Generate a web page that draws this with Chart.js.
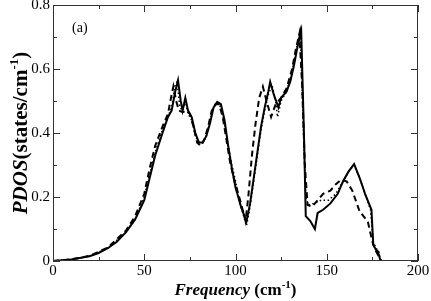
<!DOCTYPE html>
<html lang="en">
<head>
  <meta charset="UTF-8">
  <title>PDOS</title>
  <script src="https://cdn.jsdelivr.net/npm/chart.js"></script>
  <style>
    html, body { margin: 0; padding: 0; background: #fff; }
    #wrap { width: 431px; height: 301px; }
  </style>
</head>
<body>
  <div id="wrap"><canvas id="pdosChart" width="431" height="301"></canvas></div>

  <script>
    // solid curve
    const solidFreq = [0, 10, 20, 25, 30, 35, 40, 45, 50, 53, 56, 60, 63, 65, 67, 68.5, 70, 71, 72.5, 74, 76, 78, 80, 82, 84, 86, 88, 90, 92, 94, 96, 98, 100, 101, 103, 106, 108, 110, 112, 114, 116, 118, 119, 121, 123.5, 125, 128, 130, 132, 134, 136, 137.5, 138.5, 141, 143.5, 145, 148, 152, 156, 159, 162, 165, 168, 171, 174.5, 175.5, 177, 178, 179.5, 200];
    const solidVal = [0, 0.005, 0.015, 0.025, 0.04, 0.06, 0.09, 0.13, 0.19, 0.26, 0.33, 0.40, 0.45, 0.47, 0.53, 0.565, 0.50, 0.47, 0.51, 0.47, 0.45, 0.40, 0.37, 0.37, 0.39, 0.43, 0.48, 0.497, 0.49, 0.44, 0.36, 0.29, 0.23, 0.21, 0.17, 0.123, 0.18, 0.26, 0.34, 0.42, 0.48, 0.53, 0.56, 0.52, 0.48, 0.51, 0.53, 0.56, 0.61, 0.67, 0.718, 0.40, 0.14, 0.125, 0.10, 0.15, 0.16, 0.18, 0.21, 0.25, 0.28, 0.303, 0.26, 0.21, 0.16, 0.05, 0.035, 0.03, 0, 0];

    // dashed curve
    const dashFreq = [0, 10, 20, 30, 40, 45, 50, 53, 56, 60, 63, 65, 66, 67.5, 69, 71, 73, 75, 77, 79, 81, 83, 85, 87, 89, 91, 93, 95, 97, 99, 101, 103, 105.5, 107, 109, 111, 113, 115, 117, 119.5, 122, 125, 128, 131, 133, 135, 136.5, 138, 139.5, 142, 145, 148, 152, 155, 158, 161, 164, 168, 172.5, 175, 177, 180, 200];
    const dashVal = [0, 0.005, 0.016, 0.042, 0.095, 0.14, 0.21, 0.29, 0.36, 0.42, 0.46, 0.52, 0.546, 0.50, 0.47, 0.465, 0.47, 0.46, 0.42, 0.37, 0.36, 0.38, 0.42, 0.47, 0.49, 0.49, 0.45, 0.38, 0.31, 0.26, 0.22, 0.18, 0.125, 0.20, 0.33, 0.43, 0.51, 0.545, 0.50, 0.45, 0.49, 0.51, 0.54, 0.60, 0.66, 0.71, 0.55, 0.30, 0.175, 0.17, 0.19, 0.21, 0.22, 0.24, 0.255, 0.248, 0.22, 0.155, 0.123, 0.06, 0.03, 0, 0];

    // dotted curve
    const dotFreq = [0, 10, 20, 30, 40, 45, 50, 53, 56, 60, 63, 65, 67, 68, 69.5, 71, 72.5, 74, 76, 78, 80, 82, 84, 86, 88, 90, 92, 94, 96, 98, 100, 102, 104, 106, 108, 110, 112, 114, 116, 118, 120, 122, 123, 125, 128, 130, 132, 134, 135.5, 137, 138.5, 140, 143, 147, 151, 155, 159, 162, 165, 168, 171, 174, 175.5, 177, 178.5, 179.5, 200];
    const dotVal = [0, 0.005, 0.015, 0.04, 0.09, 0.13, 0.20, 0.27, 0.34, 0.41, 0.45, 0.48, 0.55, 0.56, 0.48, 0.47, 0.50, 0.46, 0.44, 0.39, 0.37, 0.37, 0.39, 0.44, 0.48, 0.495, 0.48, 0.43, 0.36, 0.30, 0.25, 0.19, 0.15, 0.11, 0.17, 0.25, 0.33, 0.41, 0.47, 0.52, 0.55, 0.50, 0.45, 0.50, 0.53, 0.57, 0.62, 0.68, 0.72, 0.45, 0.20, 0.175, 0.18, 0.19, 0.19, 0.21, 0.25, 0.28, 0.30, 0.26, 0.21, 0.16, 0.06, 0.04, 0.03, 0, 0];

    const xTicks = [0, 50, 100, 150, 200];
    const yTicks = [0, 0.2, 0.4, 0.6, 0.8];
    const yTickLabels = ['0', '0.2', '0.4', '0.6', '0.8'];

    function toPoints(xs, ys) {
      return xs.map((x, i) => ({ x: x, y: ys[i] }));
    }

    const serif = '"Liberation Serif", "DejaVu Serif", serif';

    // draws frame, inward ticks, tick labels and axis titles
    const framePlugin = {
      id: 'frame',
      afterDraw(chart) {
        const ctx = chart.ctx;
        const a = chart.chartArea;
        const xs = chart.scales.x;
        const ys = chart.scales.y;
        ctx.save();
        ctx.strokeStyle = '#333';
        ctx.lineWidth = 1;
        ctx.strokeRect(a.left + 0.5, a.top + 0.5, a.right - a.left - 1, a.bottom - a.top - 1);

        ctx.beginPath();
        for (let v = 0; v <= 200; v += 25) {
          const px = Math.round(xs.getPixelForValue(v)) + 0.5;
          const len = v % 50 === 0 ? 7 : 4;
          ctx.moveTo(px, a.bottom); ctx.lineTo(px, a.bottom - len);
          ctx.moveTo(px, a.top); ctx.lineTo(px, a.top + len);
        }
        for (let i = 0; i <= 8; i++) {
          const py = Math.round(ys.getPixelForValue(i / 10)) + 0.5;
          const len = i % 2 === 0 ? 7 : 4;
          ctx.moveTo(a.left, py); ctx.lineTo(a.left + len, py);
          ctx.moveTo(a.right, py); ctx.lineTo(a.right - len, py);
        }
        ctx.stroke();

        // tick labels
        ctx.fillStyle = '#000';
        ctx.font = '15px ' + serif;
        ctx.textAlign = 'center';
        ctx.textBaseline = 'top';
        xTicks.forEach(v => ctx.fillText(String(v), xs.getPixelForValue(v), a.bottom + 3));
        ctx.textAlign = 'right';
        ctx.textBaseline = 'middle';
        yTicks.forEach((v, i) => ctx.fillText(yTickLabels[i], a.left - 3, ys.getPixelForValue(v)));

        // panel label
        ctx.textAlign = 'left';
        ctx.textBaseline = 'alphabetic';
        ctx.font = '14px ' + serif;
        ctx.fillText('(a)', a.left + 19, a.top + 27);

        // x title
        drawRich(ctx, [
          { t: 'Frequency', f: 'italic bold 17px ' + serif },
          { t: ' (cm', f: 'bold 17px ' + serif },
          { t: '-1', f: 'bold 11px ' + serif, up: 7 },
          { t: ')', f: 'bold 17px ' + serif }
        ], (a.left + a.right) / 2, 295, 0);

        // y title
        drawRich(ctx, [
          { t: 'PDOS', f: 'italic bold 21px ' + serif },
          { t: '(states/cm', f: 'bold 21px ' + serif },
          { t: '-1', f: 'bold 13px ' + serif, up: 9 },
          { t: ')', f: 'bold 21px ' + serif }
        ], 27, (a.top + a.bottom) / 2, -Math.PI / 2);
        ctx.restore();
      }
    };

    function drawRich(ctx, parts, cx, cy, rot) {
      let total = 0;
      parts.forEach(p => { ctx.font = p.f; p.w = ctx.measureText(p.t).width; total += p.w; });
      ctx.save();
      ctx.translate(cx, cy);
      ctx.rotate(rot);
      ctx.textAlign = 'left';
      ctx.textBaseline = 'alphabetic';
      let x = -total / 2;
      parts.forEach(p => {
        ctx.font = p.f;
        ctx.fillText(p.t, x, -(p.up || 0));
        x += p.w;
      });
      ctx.restore();
    }

    new Chart(document.getElementById('pdosChart'), {
      type: 'line',
      data: {
        datasets: [
          { label: 'solid', data: toPoints(solidFreq, solidVal), borderColor: '#000', borderWidth: 2 },
          { label: 'dashed', data: toPoints(dashFreq, dashVal), borderColor: '#000', borderWidth: 2, borderDash: [6, 4] },
          { label: 'dotted', data: toPoints(dotFreq, dotVal), borderColor: '#000', borderWidth: 1.5, borderDash: [1.5, 2.5] }
        ]
      },
      options: {
        responsive: false,
        animation: false,
        events: [],
        elements: { point: { radius: 0 }, line: { tension: 0, fill: false } },
        layout: { padding: { left: 53, top: 5, right: 13, bottom: 40 } },
        plugins: { legend: { display: false }, tooltip: { enabled: false } },
        scales: {
          x: { type: 'linear', min: 0, max: 200, display: false },
          y: { min: 0, max: 0.8, display: false }
        }
      },
      plugins: [framePlugin]
    });
  </script>
</body>
</html>
